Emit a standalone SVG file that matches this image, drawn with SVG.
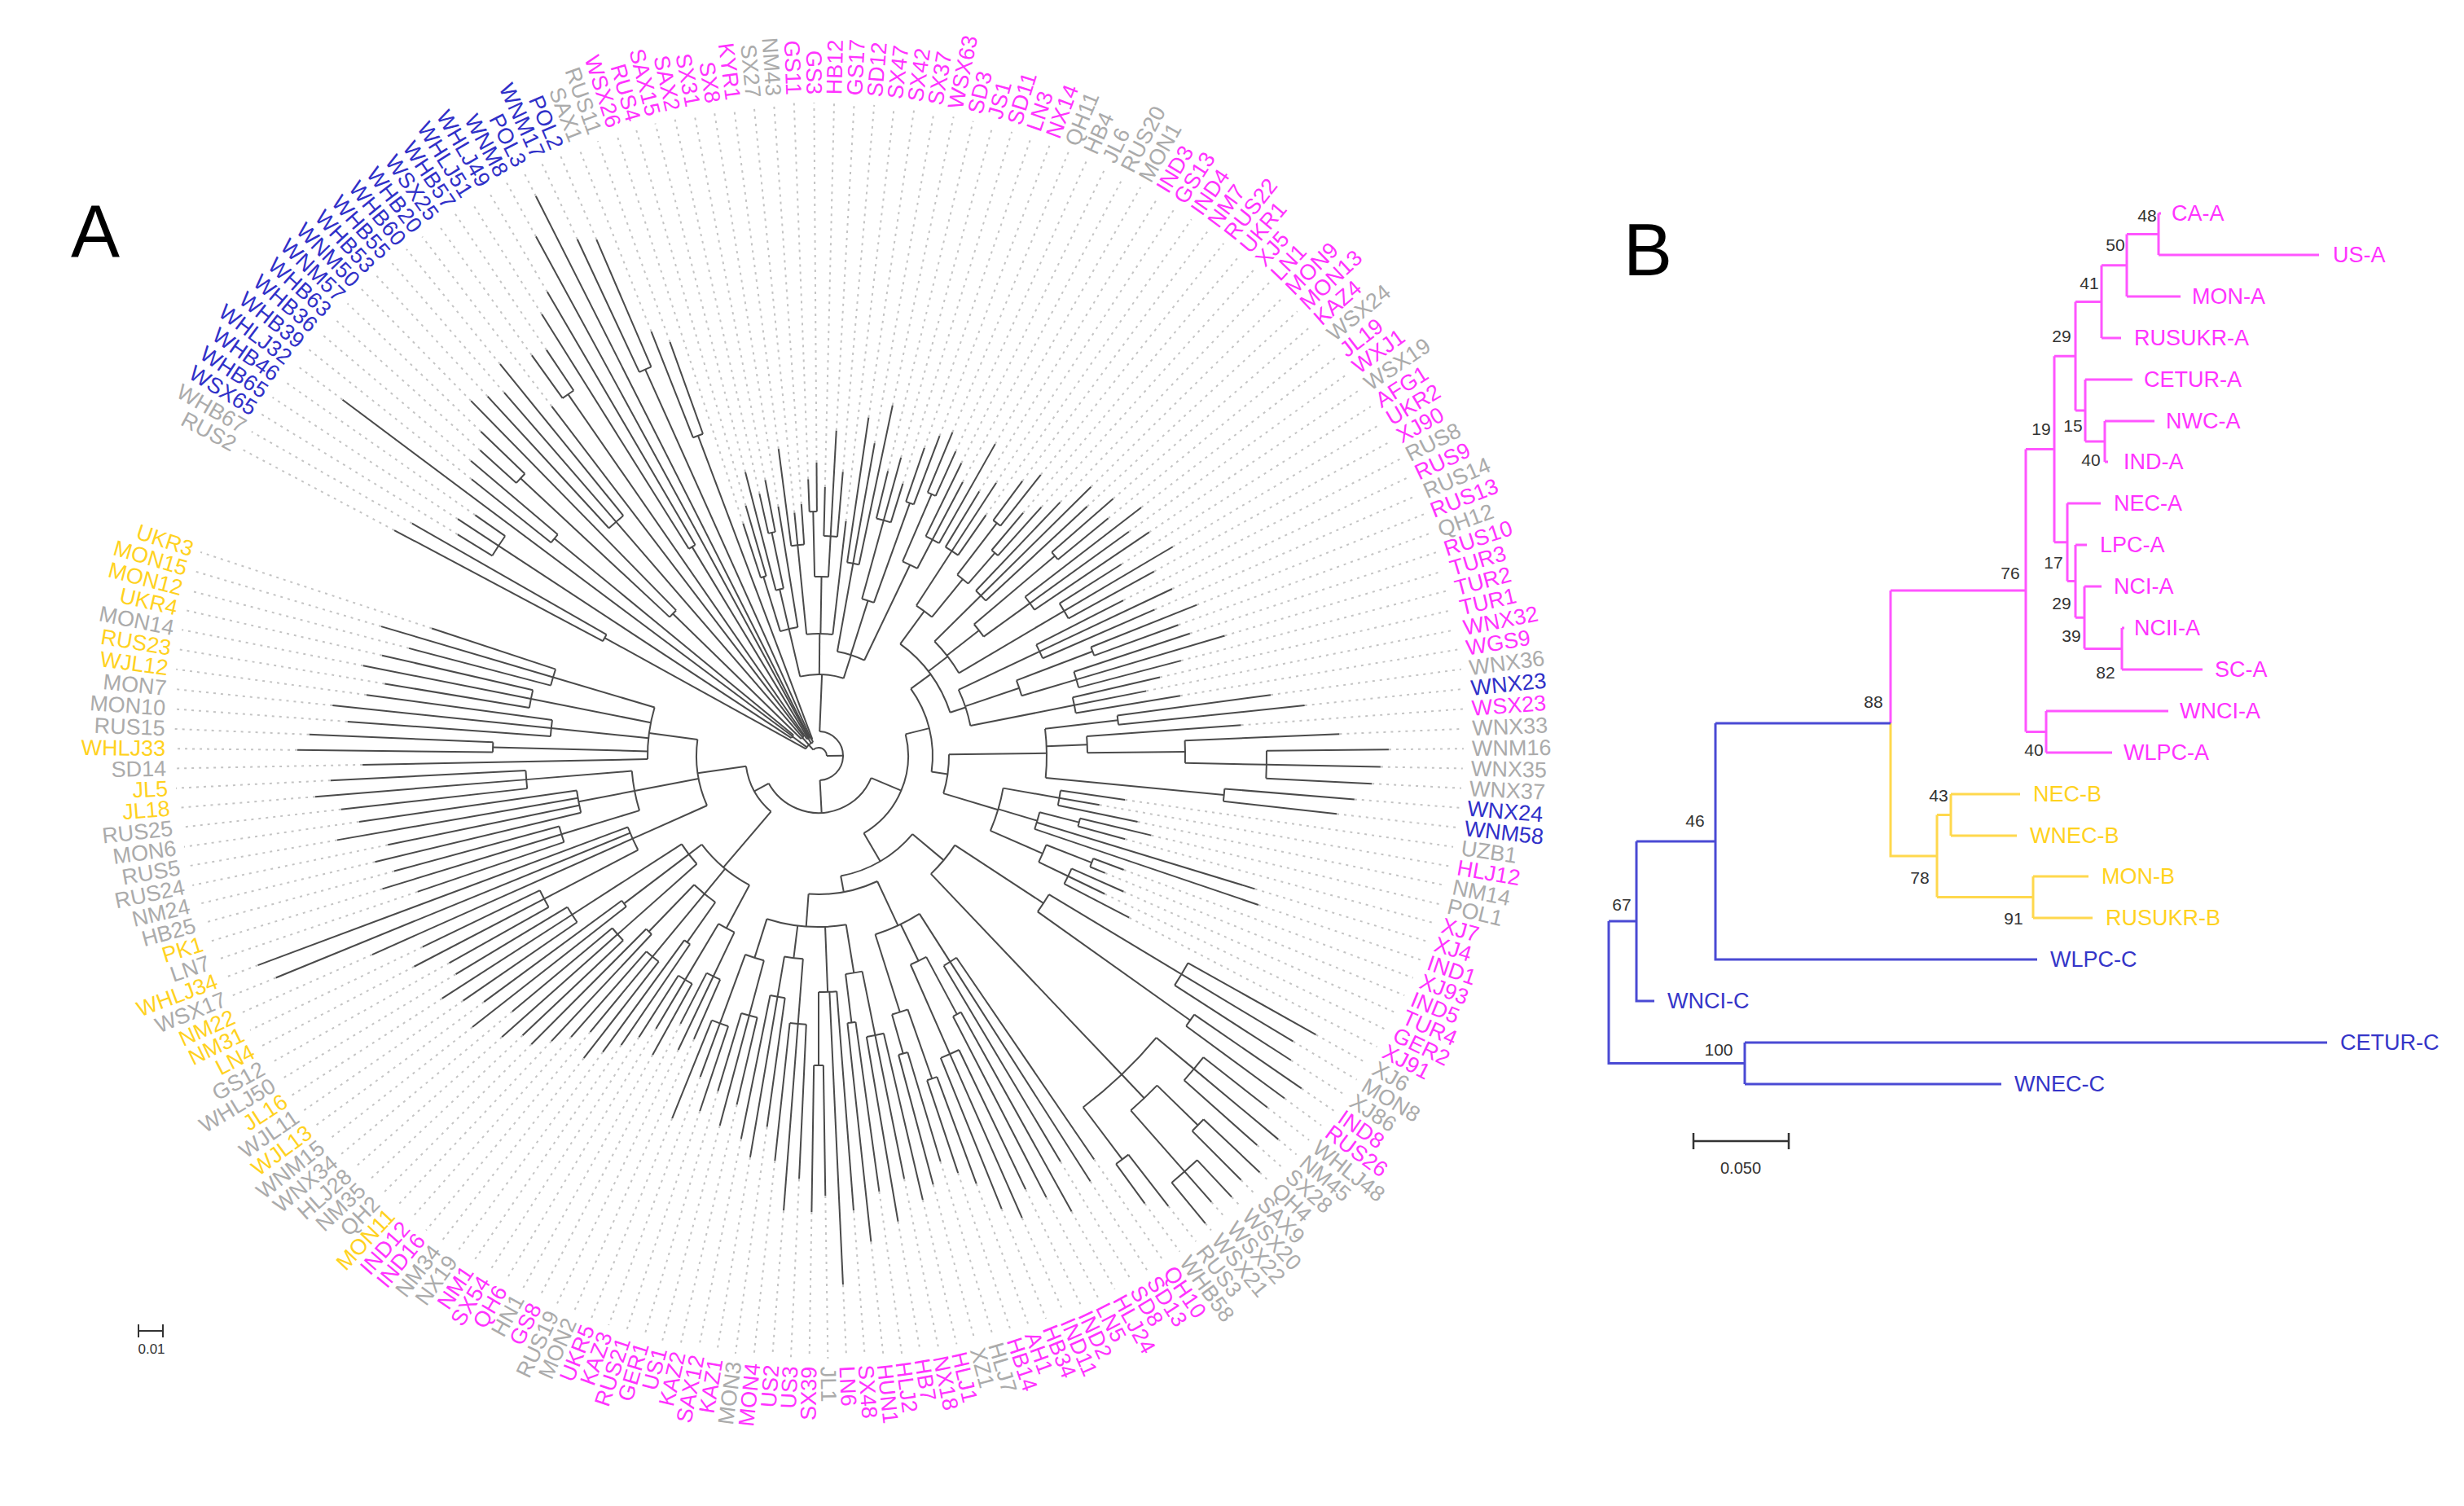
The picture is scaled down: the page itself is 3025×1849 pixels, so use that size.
<svg xmlns="http://www.w3.org/2000/svg" width="3025" height="1849" viewBox="0 0 3025 1849">
<style>
.br line,.br circle{stroke:#4a4a4a;stroke-width:2;fill:none}
.br line.d{stroke:#c4c4c4;stroke-width:2;stroke-dasharray:3 6}
#labelsA text{font-size:27px;font-family:"Liberation Sans",Arial,sans-serif;dominant-baseline:central}
.f{text-anchor:end}
.g{fill:#ababab}.m{fill:#ff33ff}.b{fill:#3030c8}.y{fill:#ffd21f}
.bl{font-size:27px;font-family:"Liberation Sans",Arial,sans-serif;dominant-baseline:central}
.bs{font-size:21px;font-family:"Liberation Sans",Arial,sans-serif;fill:#333;text-anchor:middle;dominant-baseline:central}
.pl{stroke:#ff55ff;stroke-width:3;fill:none}
.yl{stroke:#ffd84d;stroke-width:3;fill:none}
.bll{stroke:#4a4ad4;stroke-width:3;fill:none}
.pt{fill:#ff33ff}.yt{fill:#ffd21f}.bt{fill:#3535c8}
.panel{font-size:90px;font-family:"Liberation Sans",Arial,sans-serif;fill:#000}
</style>
<rect width="3025" height="1849" fill="#fff"/>
<text class="panel" x="87" y="315">A</text>
<text class="panel" x="1993" y="338">B</text>
<g id="panelA" transform="translate(1005 928) rotate(208)">
<g id="edgesA" class="br">
<g id="arcs">
<circle r="10" pathLength="360" stroke-dasharray="131.44 400" transform="rotate(20.24)"/>
<circle r="18" pathLength="360" stroke-dasharray="38.72 400" transform="rotate(0.88)"/>
<circle r="300" pathLength="360" stroke-dasharray="1.76 400" transform="rotate(0)"/>
<circle r="40" pathLength="360" stroke-dasharray="6.16 400" transform="rotate(5.28)"/>
<circle r="470" pathLength="360" stroke-dasharray="3.52 400" transform="rotate(3.52)"/>
<circle r="420" pathLength="360" stroke-dasharray="1.76 400" transform="rotate(10.56)"/>
<circle r="30" pathLength="360" stroke-dasharray="8.36 400" transform="rotate(16.28)"/>
<circle r="250" pathLength="360" stroke-dasharray="2.64 400" transform="rotate(14.96)"/>
<circle r="500" pathLength="360" stroke-dasharray="1.76 400" transform="rotate(14.08)"/>
<circle r="380" pathLength="360" stroke-dasharray="3.52 400" transform="rotate(19.36)"/>
<circle r="25" pathLength="360" stroke-dasharray="7.92 400" transform="rotate(27.28)"/>
<circle r="540" pathLength="360" stroke-dasharray="1.76 400" transform="rotate(26.4)"/>
<circle r="300" pathLength="360" stroke-dasharray="1.76 400" transform="rotate(29.92)"/>
<circle r="22" pathLength="360" stroke-dasharray="3.52 400" transform="rotate(37.84)"/>
<circle r="520" pathLength="360" stroke-dasharray="1.76 400" transform="rotate(36.96)"/>
<circle r="420" pathLength="360" stroke-dasharray="1.76 400" transform="rotate(40.48)"/>
<circle r="30" pathLength="360" stroke-dasharray="174.65 400" transform="rotate(64.35)"/>
<circle r="100" pathLength="360" stroke-dasharray="31.02 400" transform="rotate(48.84)"/>
<circle r="160" pathLength="360" stroke-dasharray="7.92 400" transform="rotate(44.88)"/>
<circle r="230" pathLength="360" stroke-dasharray="1.76 400" transform="rotate(44)"/>
<circle r="210" pathLength="360" stroke-dasharray="2.64 400" transform="rotate(47.52)"/>
<circle r="280" pathLength="360" stroke-dasharray="1.76 400" transform="rotate(49.28)"/>
<circle r="150" pathLength="360" stroke-dasharray="12.32 400" transform="rotate(56.32)"/>
<circle r="260" pathLength="360" stroke-dasharray="3.52 400" transform="rotate(54.56)"/>
<circle r="220" pathLength="360" stroke-dasharray="4.4 400" transform="rotate(60.72)"/>
<circle r="300" pathLength="360" stroke-dasharray="1.76 400" transform="rotate(59.84)"/>
<circle r="270" pathLength="360" stroke-dasharray="3.52 400" transform="rotate(63.36)"/>
<circle r="130" pathLength="360" stroke-dasharray="15.4 400" transform="rotate(72.16)"/>
<circle r="240" pathLength="360" stroke-dasharray="3.52 400" transform="rotate(70.4)"/>
<circle r="200" pathLength="360" stroke-dasharray="4.4 400" transform="rotate(77.44)"/>
<circle r="300" pathLength="360" stroke-dasharray="3.52 400" transform="rotate(75.68)"/>
<circle r="330" pathLength="360" stroke-dasharray="1.76 400" transform="rotate(80.96)"/>
<circle r="260" pathLength="360" stroke-dasharray="4.4 400" transform="rotate(85.36)"/>
<circle r="350" pathLength="360" stroke-dasharray="1.76 400" transform="rotate(84.48)"/>
<circle r="300" pathLength="360" stroke-dasharray="3.52 400" transform="rotate(88)"/>
<circle r="70" pathLength="360" stroke-dasharray="128.32 400" transform="rotate(174.84)"/>
<circle r="110" pathLength="360" stroke-dasharray="73.7 400" transform="rotate(138)"/>
<circle r="140" pathLength="360" stroke-dasharray="44.11 400" transform="rotate(115.94)"/>
<circle r="170" pathLength="360" stroke-dasharray="35.64 400" transform="rotate(98.12)"/>
<circle r="220" pathLength="360" stroke-dasharray="6.16 400" transform="rotate(95.04)"/>
<circle r="300" pathLength="360" stroke-dasharray="3.52 400" transform="rotate(93.28)"/>
<circle r="280" pathLength="360" stroke-dasharray="3.52 400" transform="rotate(99.44)"/>
<circle r="360" pathLength="360" stroke-dasharray="1.76 400" transform="rotate(98.56)"/>
<circle r="330" pathLength="360" stroke-dasharray="1.76 400" transform="rotate(102.08)"/>
<circle r="200" pathLength="360" stroke-dasharray="14.08 400" transform="rotate(107.36)"/>
<circle r="280" pathLength="360" stroke-dasharray="3.52 400" transform="rotate(105.6)"/>
<circle r="250" pathLength="360" stroke-dasharray="4.4 400" transform="rotate(111.76)"/>
<circle r="380" pathLength="360" stroke-dasharray="1.76 400" transform="rotate(110.88)"/>
<circle r="320" pathLength="360" stroke-dasharray="3.52 400" transform="rotate(114.4)"/>
<circle r="350" pathLength="360" stroke-dasharray="3.52 400" transform="rotate(119.68)"/>
<circle r="190" pathLength="360" stroke-dasharray="14.08 400" transform="rotate(126.72)"/>
<circle r="300" pathLength="360" stroke-dasharray="3.52 400" transform="rotate(124.96)"/>
<circle r="260" pathLength="360" stroke-dasharray="4.4 400" transform="rotate(131.12)"/>
<circle r="360" pathLength="360" stroke-dasharray="1.76 400" transform="rotate(130.24)"/>
<circle r="330" pathLength="360" stroke-dasharray="3.52 400" transform="rotate(133.76)"/>
<circle r="320" pathLength="360" stroke-dasharray="3.52 400" transform="rotate(139.04)"/>
<circle r="160" pathLength="360" stroke-dasharray="17.38 400" transform="rotate(151.36)"/>
<circle r="280" pathLength="360" stroke-dasharray="12.32 400" transform="rotate(145.2)"/>
<circle r="370" pathLength="360" stroke-dasharray="1.76 400" transform="rotate(144.32)"/>
<circle r="330" pathLength="360" stroke-dasharray="3.52 400" transform="rotate(147.84)"/>
<circle r="450" pathLength="360" stroke-dasharray="3.52 400" transform="rotate(149.6)"/>
<circle r="550" pathLength="360" stroke-dasharray="3.52 400" transform="rotate(151.36)"/>
<circle r="500" pathLength="360" stroke-dasharray="1.76 400" transform="rotate(156.64)"/>
<circle r="230" pathLength="360" stroke-dasharray="13.64 400" transform="rotate(161.92)"/>
<circle r="300" pathLength="360" stroke-dasharray="3.52 400" transform="rotate(160.16)"/>
<circle r="280" pathLength="360" stroke-dasharray="4.4 400" transform="rotate(166.32)"/>
<circle r="330" pathLength="360" stroke-dasharray="1.76 400" transform="rotate(165.44)"/>
<circle r="300" pathLength="360" stroke-dasharray="4.4 400" transform="rotate(173.36)"/>
<circle r="360" pathLength="360" stroke-dasharray="1.76 400" transform="rotate(172.48)"/>
<circle r="340" pathLength="360" stroke-dasharray="3.52 400" transform="rotate(176)"/>
<circle r="150" pathLength="360" stroke-dasharray="39.71 400" transform="rotate(191.84)"/>
<circle r="200" pathLength="360" stroke-dasharray="13.2 400" transform="rotate(185.24)"/>
<circle r="330" pathLength="360" stroke-dasharray="4.4 400" transform="rotate(183.04)"/>
<circle r="520" pathLength="360" stroke-dasharray="3.52 400" transform="rotate(181.28)"/>
<circle r="560" pathLength="360" stroke-dasharray="1.76 400" transform="rotate(186.56)"/>
<circle r="540" pathLength="360" stroke-dasharray="13.2 400" transform="rotate(191.84)"/>
<circle r="600" pathLength="360" stroke-dasharray="3.52 400" transform="rotate(190.08)"/>
<circle r="580" pathLength="360" stroke-dasharray="4.4 400" transform="rotate(196.24)"/>
<circle r="650" pathLength="360" stroke-dasharray="1.76 400" transform="rotate(195.36)"/>
<circle r="680" pathLength="360" stroke-dasharray="3.52 400" transform="rotate(198.88)"/>
<circle r="620" pathLength="360" stroke-dasharray="1.76 400" transform="rotate(204.16)"/>
<circle r="170" pathLength="360" stroke-dasharray="29.26 400" transform="rotate(216.92)"/>
<circle r="230" pathLength="360" stroke-dasharray="14.96 400" transform="rotate(209.44)"/>
<circle r="300" pathLength="360" stroke-dasharray="3.52 400" transform="rotate(207.68)"/>
<circle r="280" pathLength="360" stroke-dasharray="4.4 400" transform="rotate(213.84)"/>
<circle r="360" pathLength="360" stroke-dasharray="1.76 400" transform="rotate(212.96)"/>
<circle r="400" pathLength="360" stroke-dasharray="3.52 400" transform="rotate(216.48)"/>
<circle r="330" pathLength="360" stroke-dasharray="3.52 400" transform="rotate(222.64)"/>
<circle r="420" pathLength="360" stroke-dasharray="1.76 400" transform="rotate(221.76)"/>
<circle r="380" pathLength="360" stroke-dasharray="1.76 400" transform="rotate(225.28)"/>
<circle r="210" pathLength="360" stroke-dasharray="26.84 400" transform="rotate(232.76)"/>
<circle r="270" pathLength="360" stroke-dasharray="4.4 400" transform="rotate(230.56)"/>
<circle r="350" pathLength="360" stroke-dasharray="3.52 400" transform="rotate(228.8)"/>
<circle r="330" pathLength="360" stroke-dasharray="1.76 400" transform="rotate(234.08)"/>
<circle r="290" pathLength="360" stroke-dasharray="4.4 400" transform="rotate(237.6)"/>
<circle r="380" pathLength="360" stroke-dasharray="1.76 400" transform="rotate(241.12)"/>
<circle r="250" pathLength="360" stroke-dasharray="5.28 400" transform="rotate(246.4)"/>
<circle r="330" pathLength="360" stroke-dasharray="3.52 400" transform="rotate(244.64)"/>
<circle r="300" pathLength="360" stroke-dasharray="3.52 400" transform="rotate(249.92)"/>
<circle r="260" pathLength="360" stroke-dasharray="5.28 400" transform="rotate(256.96)"/>
<circle r="330" pathLength="360" stroke-dasharray="3.52 400" transform="rotate(255.2)"/>
<circle r="350" pathLength="360" stroke-dasharray="3.52 400" transform="rotate(260.48)"/>
<circle r="90" pathLength="360" stroke-dasharray="41.36 400" transform="rotate(282.48)"/>
<circle r="180" pathLength="360" stroke-dasharray="24.64 400" transform="rotate(270.16)"/>
<circle r="240" pathLength="360" stroke-dasharray="5.28 400" transform="rotate(267.52)"/>
<circle r="300" pathLength="360" stroke-dasharray="3.52 400" transform="rotate(265.76)"/>
<circle r="320" pathLength="360" stroke-dasharray="3.52 400" transform="rotate(271.04)"/>
<circle r="220" pathLength="360" stroke-dasharray="8.8 400" transform="rotate(277.2)"/>
<circle r="280" pathLength="360" stroke-dasharray="1.76 400" transform="rotate(276.32)"/>
<circle r="320" pathLength="360" stroke-dasharray="3.52 400" transform="rotate(279.84)"/>
<circle r="300" pathLength="360" stroke-dasharray="1.76 400" transform="rotate(285.12)"/>
<circle r="200" pathLength="360" stroke-dasharray="8.8 400" transform="rotate(290.4)"/>
<circle r="330" pathLength="360" stroke-dasharray="3.52 400" transform="rotate(288.64)"/>
<circle r="300" pathLength="360" stroke-dasharray="1.76 400" transform="rotate(293.92)"/>
<circle r="360" pathLength="360" stroke-dasharray="3.52 400" transform="rotate(297.44)"/>
<circle r="150" pathLength="360" stroke-dasharray="31.68 400" transform="rotate(308)"/>
<circle r="250" pathLength="360" stroke-dasharray="7.04 400" transform="rotate(304.48)"/>
<circle r="380" pathLength="360" stroke-dasharray="3.52 400" transform="rotate(302.72)"/>
<circle r="230" pathLength="360" stroke-dasharray="12.32 400" transform="rotate(315.04)"/>
<circle r="330" pathLength="360" stroke-dasharray="3.52 400" transform="rotate(313.28)"/>
<circle r="300" pathLength="360" stroke-dasharray="5.28 400" transform="rotate(318.56)"/>
<circle r="360" pathLength="360" stroke-dasharray="3.52 400" transform="rotate(325.6)"/>
<circle r="210" pathLength="360" stroke-dasharray="17.6 400" transform="rotate(330.88)"/>
<circle r="400" pathLength="360" stroke-dasharray="1.76 400" transform="rotate(332.64)"/>
<circle r="330" pathLength="360" stroke-dasharray="3.52 400" transform="rotate(336.16)"/>
<circle r="360" pathLength="360" stroke-dasharray="3.52 400" transform="rotate(341.44)"/>
<circle r="340" pathLength="360" stroke-dasharray="3.52 400" transform="rotate(346.72)"/>
</g>
<g id="stems">
<line x1="10" x2="18" transform="rotate(20.24)"/>
<line x1="18" x2="300" transform="rotate(0.88)"/>
<line x1="18" x2="40" transform="rotate(8.36)"/>
<line x1="40" x2="470" transform="rotate(5.28)"/>
<line x1="40" x2="420" transform="rotate(11.44)"/>
<line x1="18" x2="30" transform="rotate(20.46)"/>
<line x1="30" x2="250" transform="rotate(16.28)"/>
<line x1="250" x2="500" transform="rotate(14.96)"/>
<line x1="30" x2="380" transform="rotate(21.12)"/>
<line x1="18" x2="25" transform="rotate(31.24)"/>
<line x1="25" x2="540" transform="rotate(27.28)"/>
<line x1="25" x2="300" transform="rotate(30.8)"/>
<line x1="18" x2="22" transform="rotate(39.6)"/>
<line x1="22" x2="520" transform="rotate(37.84)"/>
<line x1="22" x2="420" transform="rotate(41.36)"/>
<line x1="10" x2="30" transform="rotate(151.68)"/>
<line x1="30" x2="100" transform="rotate(64.35)"/>
<line x1="100" x2="160" transform="rotate(48.84)"/>
<line x1="160" x2="230" transform="rotate(44.88)"/>
<line x1="160" x2="210" transform="rotate(48.84)"/>
<line x1="210" x2="280" transform="rotate(50.16)"/>
<line x1="100" x2="150" transform="rotate(62.48)"/>
<line x1="150" x2="260" transform="rotate(56.32)"/>
<line x1="150" x2="220" transform="rotate(62.92)"/>
<line x1="220" x2="300" transform="rotate(60.72)"/>
<line x1="220" x2="270" transform="rotate(65.12)"/>
<line x1="100" x2="130" transform="rotate(79.86)"/>
<line x1="130" x2="240" transform="rotate(72.16)"/>
<line x1="130" x2="200" transform="rotate(79.64)"/>
<line x1="200" x2="300" transform="rotate(77.44)"/>
<line x1="200" x2="330" transform="rotate(81.84)"/>
<line x1="130" x2="260" transform="rotate(87.56)"/>
<line x1="260" x2="350" transform="rotate(85.36)"/>
<line x1="260" x2="300" transform="rotate(89.76)"/>
<line x1="30" x2="70" transform="rotate(239)"/>
<line x1="70" x2="110" transform="rotate(174.84)"/>
<line x1="110" x2="140" transform="rotate(138)"/>
<line x1="140" x2="170" transform="rotate(115.94)"/>
<line x1="170" x2="220" transform="rotate(98.12)"/>
<line x1="220" x2="300" transform="rotate(95.04)"/>
<line x1="220" x2="280" transform="rotate(101.2)"/>
<line x1="280" x2="360" transform="rotate(99.44)"/>
<line x1="280" x2="330" transform="rotate(102.96)"/>
<line x1="170" x2="200" transform="rotate(114.4)"/>
<line x1="200" x2="280" transform="rotate(107.36)"/>
<line x1="200" x2="250" transform="rotate(113.96)"/>
<line x1="250" x2="380" transform="rotate(111.76)"/>
<line x1="250" x2="320" transform="rotate(116.16)"/>
<line x1="200" x2="350" transform="rotate(121.44)"/>
<line x1="170" x2="190" transform="rotate(133.76)"/>
<line x1="190" x2="300" transform="rotate(126.72)"/>
<line x1="190" x2="260" transform="rotate(133.32)"/>
<line x1="260" x2="360" transform="rotate(131.12)"/>
<line x1="260" x2="330" transform="rotate(135.52)"/>
<line x1="190" x2="320" transform="rotate(140.8)"/>
<line x1="140" x2="160" transform="rotate(160.05)"/>
<line x1="160" x2="280" transform="rotate(151.36)"/>
<line x1="280" x2="370" transform="rotate(145.2)"/>
<line x1="280" x2="330" transform="rotate(149.6)"/>
<line x1="330" x2="450" transform="rotate(151.36)"/>
<line x1="450" x2="550" transform="rotate(153.12)"/>
<line x1="280" x2="500" transform="rotate(157.52)"/>
<line x1="160" x2="230" transform="rotate(168.74)"/>
<line x1="230" x2="300" transform="rotate(161.92)"/>
<line x1="230" x2="280" transform="rotate(168.52)"/>
<line x1="280" x2="330" transform="rotate(166.32)"/>
<line x1="230" x2="300" transform="rotate(175.56)"/>
<line x1="300" x2="360" transform="rotate(173.36)"/>
<line x1="300" x2="340" transform="rotate(177.76)"/>
<line x1="110" x2="150" transform="rotate(211.7)"/>
<line x1="150" x2="200" transform="rotate(191.84)"/>
<line x1="200" x2="330" transform="rotate(185.24)"/>
<line x1="330" x2="520" transform="rotate(183.04)"/>
<line x1="330" x2="560" transform="rotate(187.44)"/>
<line x1="200" x2="540" transform="rotate(198.44)"/>
<line x1="540" x2="600" transform="rotate(191.84)"/>
<line x1="540" x2="580" transform="rotate(198.44)"/>
<line x1="580" x2="650" transform="rotate(196.24)"/>
<line x1="580" x2="680" transform="rotate(200.64)"/>
<line x1="540" x2="620" transform="rotate(205.04)"/>
<line x1="150" x2="170" transform="rotate(231.55)"/>
<line x1="170" x2="230" transform="rotate(216.92)"/>
<line x1="230" x2="300" transform="rotate(209.44)"/>
<line x1="230" x2="280" transform="rotate(216.04)"/>
<line x1="280" x2="360" transform="rotate(213.84)"/>
<line x1="280" x2="400" transform="rotate(218.24)"/>
<line x1="230" x2="330" transform="rotate(224.4)"/>
<line x1="330" x2="420" transform="rotate(222.64)"/>
<line x1="330" x2="380" transform="rotate(226.16)"/>
<line x1="170" x2="210" transform="rotate(246.18)"/>
<line x1="210" x2="270" transform="rotate(232.76)"/>
<line x1="270" x2="350" transform="rotate(230.56)"/>
<line x1="270" x2="330" transform="rotate(234.96)"/>
<line x1="210" x2="290" transform="rotate(239.8)"/>
<line x1="290" x2="380" transform="rotate(242)"/>
<line x1="210" x2="250" transform="rotate(249.04)"/>
<line x1="250" x2="330" transform="rotate(246.4)"/>
<line x1="250" x2="300" transform="rotate(251.68)"/>
<line x1="210" x2="260" transform="rotate(259.6)"/>
<line x1="260" x2="330" transform="rotate(256.96)"/>
<line x1="260" x2="350" transform="rotate(262.24)"/>
<line x1="70" x2="90" transform="rotate(303.16)"/>
<line x1="90" x2="180" transform="rotate(282.48)"/>
<line x1="180" x2="240" transform="rotate(270.16)"/>
<line x1="240" x2="300" transform="rotate(267.52)"/>
<line x1="240" x2="320" transform="rotate(272.8)"/>
<line x1="180" x2="220" transform="rotate(281.6)"/>
<line x1="220" x2="280" transform="rotate(277.2)"/>
<line x1="220" x2="320" transform="rotate(281.6)"/>
<line x1="220" x2="300" transform="rotate(286)"/>
<line x1="180" x2="200" transform="rotate(294.8)"/>
<line x1="200" x2="330" transform="rotate(290.4)"/>
<line x1="200" x2="300" transform="rotate(294.8)"/>
<line x1="200" x2="360" transform="rotate(299.2)"/>
<line x1="90" x2="150" transform="rotate(323.84)"/>
<line x1="150" x2="250" transform="rotate(308)"/>
<line x1="250" x2="380" transform="rotate(304.48)"/>
<line x1="150" x2="230" transform="rotate(321.2)"/>
<line x1="230" x2="330" transform="rotate(315.04)"/>
<line x1="230" x2="300" transform="rotate(321.2)"/>
<line x1="230" x2="360" transform="rotate(327.36)"/>
<line x1="150" x2="210" transform="rotate(339.68)"/>
<line x1="210" x2="400" transform="rotate(333.52)"/>
<line x1="210" x2="330" transform="rotate(337.92)"/>
<line x1="210" x2="360" transform="rotate(343.2)"/>
<line x1="210" x2="340" transform="rotate(348.48)"/>
</g>
<g id="tips">
<g transform="rotate(0)"><line x1="300" x2="590"/><line class="d" x1="590" x2="802"/></g>
<g transform="rotate(1.76)"><line x1="300" x2="575"/><line class="d" x1="575" x2="802"/></g>
<g transform="rotate(3.52)"><line x1="470" x2="520"/><line class="d" x1="520" x2="802"/></g>
<g transform="rotate(5.28)"><line x1="470" x2="530"/><line class="d" x1="530" x2="802"/></g>
<g transform="rotate(7.04)"><line x1="470" x2="515"/><line class="d" x1="515" x2="802"/></g>
<g transform="rotate(8.8)"><line x1="40" x2="730"/><line class="d" x1="730" x2="802"/></g>
<g transform="rotate(10.56)"><line x1="420" x2="545"/><line class="d" x1="545" x2="802"/></g>
<g transform="rotate(12.32)"><line x1="420" x2="560"/><line class="d" x1="560" x2="802"/></g>
<g transform="rotate(14.08)"><line x1="500" x2="560"/><line class="d" x1="560" x2="802"/></g>
<g transform="rotate(15.84)"><line x1="500" x2="575"/><line class="d" x1="575" x2="802"/></g>
<g transform="rotate(17.6)"><line x1="250" x2="610"/><line class="d" x1="610" x2="802"/></g>
<g transform="rotate(19.36)"><line x1="380" x2="600"/><line class="d" x1="600" x2="802"/></g>
<g transform="rotate(21.12)"><line x1="380" x2="590"/><line class="d" x1="590" x2="802"/></g>
<g transform="rotate(22.88)"><line x1="380" x2="620"/><line class="d" x1="620" x2="802"/></g>
<g transform="rotate(24.64)"><line x1="30" x2="540"/><line class="d" x1="540" x2="802"/></g>
<g transform="rotate(26.4)"><line x1="540" x2="605"/><line class="d" x1="605" x2="802"/></g>
<g transform="rotate(28.16)"><line x1="540" x2="600"/><line class="d" x1="600" x2="802"/></g>
<g transform="rotate(29.92)"><line x1="300" x2="640"/><line class="d" x1="640" x2="802"/></g>
<g transform="rotate(31.68)"><line x1="300" x2="660"/><line class="d" x1="660" x2="802"/></g>
<g transform="rotate(33.44)"><line x1="25" x2="726"/><line class="d" x1="726" x2="802"/></g>
<g transform="rotate(35.2)"><line x1="25" x2="770"/><line class="d" x1="770" x2="802"/></g>
<g transform="rotate(36.96)"><line x1="520" x2="700"/><line class="d" x1="700" x2="802"/></g>
<g transform="rotate(38.72)"><line x1="520" x2="690"/><line class="d" x1="690" x2="802"/></g>
<g transform="rotate(40.48)"><line x1="420" x2="560"/><line class="d" x1="560" x2="802"/></g>
<g transform="rotate(42.24)"><line x1="420" x2="540"/><line class="d" x1="540" x2="802"/></g>
<g transform="rotate(44)"><line x1="230" x2="300"/><line class="d" x1="300" x2="802"/></g>
<g transform="rotate(45.76)"><line x1="230" x2="320"/><line class="d" x1="320" x2="802"/></g>
<g transform="rotate(47.52)"><line x1="210" x2="360"/><line class="d" x1="360" x2="802"/></g>
<g transform="rotate(49.28)"><line x1="280" x2="330"/><line class="d" x1="330" x2="802"/></g>
<g transform="rotate(51.04)"><line x1="280" x2="345"/><line class="d" x1="345" x2="802"/></g>
<g transform="rotate(52.8)"><line x1="160" x2="310"/><line class="d" x1="310" x2="802"/></g>
<g transform="rotate(54.56)"><line x1="260" x2="380"/><line class="d" x1="380" x2="802"/></g>
<g transform="rotate(56.32)"><line x1="260" x2="300"/><line class="d" x1="300" x2="802"/></g>
<g transform="rotate(58.08)"><line x1="260" x2="310"/><line class="d" x1="310" x2="802"/></g>
<g transform="rotate(59.84)"><line x1="300" x2="340"/><line class="d" x1="340" x2="802"/></g>
<g transform="rotate(61.6)"><line x1="300" x2="360"/><line class="d" x1="360" x2="802"/></g>
<g transform="rotate(63.36)"><line x1="270" x2="330"/><line class="d" x1="330" x2="802"/></g>
<g transform="rotate(65.12)"><line x1="270" x2="400"/><line class="d" x1="400" x2="802"/></g>
<g transform="rotate(66.88)"><line x1="270" x2="350"/><line class="d" x1="350" x2="802"/></g>
<g transform="rotate(68.64)"><line x1="150" x2="290"/><line class="d" x1="290" x2="802"/></g>
<g transform="rotate(70.4)"><line x1="240" x2="420"/><line class="d" x1="420" x2="802"/></g>
<g transform="rotate(72.16)"><line x1="240" x2="390"/><line class="d" x1="390" x2="802"/></g>
<g transform="rotate(73.92)"><line x1="240" x2="440"/><line class="d" x1="440" x2="802"/></g>
<g transform="rotate(75.68)"><line x1="300" x2="360"/><line class="d" x1="360" x2="802"/></g>
<g transform="rotate(77.44)"><line x1="300" x2="380"/><line class="d" x1="380" x2="802"/></g>
<g transform="rotate(79.2)"><line x1="300" x2="350"/><line class="d" x1="350" x2="802"/></g>
<g transform="rotate(80.96)"><line x1="330" x2="400"/><line class="d" x1="400" x2="802"/></g>
<g transform="rotate(82.72)"><line x1="330" x2="420"/><line class="d" x1="420" x2="802"/></g>
<g transform="rotate(84.48)"><line x1="350" x2="430"/><line class="d" x1="430" x2="802"/></g>
<g transform="rotate(86.24)"><line x1="350" x2="410"/><line class="d" x1="410" x2="802"/></g>
<g transform="rotate(88)"><line x1="300" x2="400"/><line class="d" x1="400" x2="802"/></g>
<g transform="rotate(89.76)"><line x1="300" x2="380"/><line class="d" x1="380" x2="802"/></g>
<g transform="rotate(91.52)"><line x1="300" x2="440"/><line class="d" x1="440" x2="802"/></g>
<g transform="rotate(93.28)"><line x1="300" x2="380"/><line class="d" x1="380" x2="802"/></g>
<g transform="rotate(95.04)"><line x1="300" x2="400"/><line class="d" x1="400" x2="802"/></g>
<g transform="rotate(96.8)"><line x1="300" x2="360"/><line class="d" x1="360" x2="802"/></g>
<g transform="rotate(98.56)"><line x1="360" x2="420"/><line class="d" x1="420" x2="802"/></g>
<g transform="rotate(100.32)"><line x1="360" x2="440"/><line class="d" x1="440" x2="802"/></g>
<g transform="rotate(102.08)"><line x1="330" x2="390"/><line class="d" x1="390" x2="802"/></g>
<g transform="rotate(103.84)"><line x1="330" x2="410"/><line class="d" x1="410" x2="802"/></g>
<g transform="rotate(105.6)"><line x1="280" x2="430"/><line class="d" x1="430" x2="802"/></g>
<g transform="rotate(107.36)"><line x1="280" x2="470"/><line class="d" x1="470" x2="802"/></g>
<g transform="rotate(109.12)"><line x1="280" x2="450"/><line class="d" x1="450" x2="802"/></g>
<g transform="rotate(110.88)"><line x1="380" x2="480"/><line class="d" x1="480" x2="802"/></g>
<g transform="rotate(112.64)"><line x1="380" x2="460"/><line class="d" x1="460" x2="802"/></g>
<g transform="rotate(114.4)"><line x1="320" x2="500"/><line class="d" x1="500" x2="802"/></g>
<g transform="rotate(116.16)"><line x1="320" x2="470"/><line class="d" x1="470" x2="802"/></g>
<g transform="rotate(117.92)"><line x1="320" x2="490"/><line class="d" x1="490" x2="802"/></g>
<g transform="rotate(119.68)"><line x1="350" x2="440"/><line class="d" x1="440" x2="802"/></g>
<g transform="rotate(121.44)"><line x1="350" x2="505"/><line class="d" x1="505" x2="802"/></g>
<g transform="rotate(123.2)"><line x1="350" x2="470"/><line class="d" x1="470" x2="802"/></g>
<g transform="rotate(124.96)"><line x1="300" x2="420"/><line class="d" x1="420" x2="801"/></g>
<g transform="rotate(126.72)"><line x1="300" x2="480"/><line class="d" x1="480" x2="801"/></g>
<g transform="rotate(128.48)"><line x1="300" x2="450"/><line class="d" x1="450" x2="801"/></g>
<g transform="rotate(130.24)"><line x1="360" x2="500"/><line class="d" x1="500" x2="800"/></g>
<g transform="rotate(132)"><line x1="360" x2="470"/><line class="d" x1="470" x2="800"/></g>
<g transform="rotate(133.76)"><line x1="330" x2="480"/><line class="d" x1="480" x2="799"/></g>
<g transform="rotate(135.52)"><line x1="330" x2="520"/><line class="d" x1="520" x2="799"/></g>
<g transform="rotate(137.28)"><line x1="330" x2="460"/><line class="d" x1="460" x2="798"/></g>
<g transform="rotate(139.04)"><line x1="320" x2="430"/><line class="d" x1="430" x2="798"/></g>
<g transform="rotate(140.8)"><line x1="320" x2="410"/><line class="d" x1="410" x2="797"/></g>
<g transform="rotate(142.56)"><line x1="320" x2="450"/><line class="d" x1="450" x2="796"/></g>
<g transform="rotate(144.32)"><line x1="370" x2="560"/><line class="d" x1="560" x2="796"/></g>
<g transform="rotate(146.08)"><line x1="370" x2="600"/><line class="d" x1="600" x2="795"/></g>
<g transform="rotate(147.84)"><line x1="330" x2="520"/><line class="d" x1="520" x2="794"/></g>
<g transform="rotate(149.6)"><line x1="450" x2="640"/><line class="d" x1="640" x2="793"/></g>
<g transform="rotate(151.36)"><line x1="550" x2="700"/><line class="d" x1="700" x2="792"/></g>
<g transform="rotate(153.12)"><line x1="550" x2="690"/><line class="d" x1="690" x2="791"/></g>
<g transform="rotate(154.88)"><line x1="550" x2="680"/><line class="d" x1="680" x2="790"/></g>
<g transform="rotate(156.64)"><line x1="500" x2="660"/><line class="d" x1="660" x2="789"/></g>
<g transform="rotate(158.4)"><line x1="500" x2="640"/><line class="d" x1="640" x2="788"/></g>
<g transform="rotate(160.16)"><line x1="300" x2="380"/><line class="d" x1="380" x2="787"/></g>
<g transform="rotate(161.92)"><line x1="300" x2="350"/><line class="d" x1="350" x2="786"/></g>
<g transform="rotate(163.68)"><line x1="300" x2="400"/><line class="d" x1="400" x2="785"/></g>
<g transform="rotate(165.44)"><line x1="330" x2="420"/><line class="d" x1="420" x2="784"/></g>
<g transform="rotate(167.2)"><line x1="330" x2="390"/><line class="d" x1="390" x2="783"/></g>
<g transform="rotate(168.96)"><line x1="280" x2="560"/><line class="d" x1="560" x2="781"/></g>
<g transform="rotate(170.72)"><line x1="280" x2="570"/><line class="d" x1="570" x2="780"/></g>
<g transform="rotate(172.48)"><line x1="360" x2="400"/><line class="d" x1="400" x2="779"/></g>
<g transform="rotate(174.24)"><line x1="360" x2="380"/><line class="d" x1="380" x2="777"/></g>
<g transform="rotate(176)"><line x1="340" x2="410"/><line class="d" x1="410" x2="776"/></g>
<g transform="rotate(177.76)"><line x1="340" x2="390"/><line class="d" x1="390" x2="775"/></g>
<g transform="rotate(179.52)"><line x1="340" x2="430"/><line class="d" x1="430" x2="773"/></g>
<g transform="rotate(181.28)"><line x1="520" x2="700"/><line class="d" x1="700" x2="772"/></g>
<g transform="rotate(183.04)"><line x1="520" x2="680"/><line class="d" x1="680" x2="771"/></g>
<g transform="rotate(184.8)"><line x1="520" x2="690"/><line class="d" x1="690" x2="769"/></g>
<g transform="rotate(186.56)"><line x1="560" x2="720"/><line class="d" x1="720" x2="768"/></g>
<g transform="rotate(188.32)"><line x1="560" x2="710"/><line class="d" x1="710" x2="766"/></g>
<g transform="rotate(190.08)"><line x1="600" x2="700"/><line class="d" x1="700" x2="765"/></g>
<g transform="rotate(191.84)"><line x1="600" x2="735"/><line class="d" x1="735" x2="764"/></g>
<g transform="rotate(193.6)"><line x1="600" x2="720"/><line class="d" x1="720" x2="762"/></g>
<g transform="rotate(195.36)"><line x1="650" x2="745"/><line class="d" x1="745" x2="761"/></g>
<g transform="rotate(197.12)"><line x1="650" x2="735"/><line class="d" x1="735" x2="760"/></g>
<g transform="rotate(198.88)"><line x1="680" x2="742"/><line class="d" x1="742" x2="758"/></g>
<g transform="rotate(200.64)"><line x1="680" x2="730"/><line class="d" x1="730" x2="757"/></g>
<g transform="rotate(202.4)"><line x1="680" x2="745"/><line class="d" x1="745" x2="756"/></g>
<g transform="rotate(204.16)"><line x1="620" x2="700"/><line class="d" x1="700" x2="755"/></g>
<g transform="rotate(205.92)"><line x1="620" x2="680"/><line class="d" x1="680" x2="753"/></g>
<g transform="rotate(207.68)"><line x1="300" x2="600"/><line class="d" x1="600" x2="752"/></g>
<g transform="rotate(209.44)"><line x1="300" x2="620"/><line class="d" x1="620" x2="751"/></g>
<g transform="rotate(211.2)"><line x1="300" x2="580"/><line class="d" x1="580" x2="750"/></g>
<g transform="rotate(212.96)"><line x1="360" x2="640"/><line class="d" x1="640" x2="749"/></g>
<g transform="rotate(214.72)"><line x1="360" x2="610"/><line class="d" x1="610" x2="748"/></g>
<g transform="rotate(216.48)"><line x1="400" x2="590"/><line class="d" x1="590" x2="747"/></g>
<g transform="rotate(218.24)"><line x1="400" x2="620"/><line class="d" x1="620" x2="746"/></g>
<g transform="rotate(220)"><line x1="400" x2="600"/><line class="d" x1="600" x2="745"/></g>
<g transform="rotate(221.76)"><line x1="420" x2="560"/><line class="d" x1="560" x2="745"/></g>
<g transform="rotate(223.52)"><line x1="420" x2="540"/><line class="d" x1="540" x2="744"/></g>
<g transform="rotate(225.28)"><line x1="380" x2="520"/><line class="d" x1="520" x2="743"/></g>
<g transform="rotate(227.04)"><line x1="380" x2="545"/><line class="d" x1="545" x2="743"/></g>
<g transform="rotate(228.8)"><line x1="350" x2="560"/><line class="d" x1="560" x2="742"/></g>
<g transform="rotate(230.56)"><line x1="350" x2="530"/><line class="d" x1="530" x2="742"/></g>
<g transform="rotate(232.32)"><line x1="350" x2="580"/><line class="d" x1="580" x2="741"/></g>
<g transform="rotate(234.08)"><line x1="330" x2="540"/><line class="d" x1="540" x2="741"/></g>
<g transform="rotate(235.84)"><line x1="330" x2="600"/><line class="d" x1="600" x2="741"/></g>
<g transform="rotate(237.6)"><line x1="290" x2="560"/><line class="d" x1="560" x2="740"/></g>
<g transform="rotate(239.36)"><line x1="290" x2="650"/><line class="d" x1="650" x2="740"/></g>
<g transform="rotate(241.12)"><line x1="380" x2="540"/><line class="d" x1="540" x2="740"/></g>
<g transform="rotate(242.88)"><line x1="380" x2="560"/><line class="d" x1="560" x2="740"/></g>
<g transform="rotate(244.64)"><line x1="330" x2="520"/><line class="d" x1="520" x2="740"/></g>
<g transform="rotate(246.4)"><line x1="330" x2="560"/><line class="d" x1="560" x2="740"/></g>
<g transform="rotate(248.16)"><line x1="330" x2="500"/><line class="d" x1="500" x2="740"/></g>
<g transform="rotate(249.92)"><line x1="300" x2="460"/><line class="d" x1="460" x2="741"/></g>
<g transform="rotate(251.68)"><line x1="300" x2="500"/><line class="d" x1="500" x2="741"/></g>
<g transform="rotate(253.44)"><line x1="300" x2="480"/><line class="d" x1="480" x2="741"/></g>
<g transform="rotate(255.2)"><line x1="330" x2="440"/><line class="d" x1="440" x2="742"/></g>
<g transform="rotate(256.96)"><line x1="330" x2="470"/><line class="d" x1="470" x2="743"/></g>
<g transform="rotate(258.72)"><line x1="330" x2="430"/><line class="d" x1="430" x2="743"/></g>
<g transform="rotate(260.48)"><line x1="350" x2="460"/><line class="d" x1="460" x2="744"/></g>
<g transform="rotate(262.24)"><line x1="350" x2="420"/><line class="d" x1="420" x2="745"/></g>
<g transform="rotate(264)"><line x1="350" x2="480"/><line class="d" x1="480" x2="745"/></g>
<g transform="rotate(265.76)"><line x1="300" x2="380"/><line class="d" x1="380" x2="746"/></g>
<g transform="rotate(267.52)"><line x1="300" x2="400"/><line class="d" x1="400" x2="747"/></g>
<g transform="rotate(269.28)"><line x1="300" x2="370"/><line class="d" x1="370" x2="748"/></g>
<g transform="rotate(271.04)"><line x1="320" x2="420"/><line class="d" x1="420" x2="749"/></g>
<g transform="rotate(272.8)"><line x1="320" x2="390"/><line class="d" x1="390" x2="750"/></g>
<g transform="rotate(274.56)"><line x1="320" x2="410"/><line class="d" x1="410" x2="751"/></g>
<g transform="rotate(276.32)"><line x1="280" x2="430"/><line class="d" x1="430" x2="752"/></g>
<g transform="rotate(278.08)"><line x1="280" x2="450"/><line class="d" x1="450" x2="753"/></g>
<g transform="rotate(279.84)"><line x1="320" x2="470"/><line class="d" x1="470" x2="755"/></g>
<g transform="rotate(281.6)"><line x1="320" x2="440"/><line class="d" x1="440" x2="756"/></g>
<g transform="rotate(283.36)"><line x1="320" x2="460"/><line class="d" x1="460" x2="757"/></g>
<g transform="rotate(285.12)"><line x1="300" x2="480"/><line class="d" x1="480" x2="758"/></g>
<g transform="rotate(286.88)"><line x1="300" x2="500"/><line class="d" x1="500" x2="760"/></g>
<g transform="rotate(288.64)"><line x1="330" x2="500"/><line class="d" x1="500" x2="761"/></g>
<g transform="rotate(290.4)"><line x1="330" x2="520"/><line class="d" x1="520" x2="762"/></g>
<g transform="rotate(292.16)"><line x1="330" x2="490"/><line class="d" x1="490" x2="764"/></g>
<g transform="rotate(293.92)"><line x1="300" x2="540"/><line class="d" x1="540" x2="765"/></g>
<g transform="rotate(295.68)"><line x1="300" x2="510"/><line class="d" x1="510" x2="766"/></g>
<g transform="rotate(297.44)"><line x1="360" x2="530"/><line class="d" x1="530" x2="768"/></g>
<g transform="rotate(299.2)"><line x1="360" x2="550"/><line class="d" x1="550" x2="769"/></g>
<g transform="rotate(300.96)"><line x1="360" x2="520"/><line class="d" x1="520" x2="771"/></g>
<g transform="rotate(302.72)"><line x1="380" x2="520"/><line class="d" x1="520" x2="772"/></g>
<g transform="rotate(304.48)"><line x1="380" x2="560"/><line class="d" x1="560" x2="773"/></g>
<g transform="rotate(306.24)"><line x1="380" x2="540"/><line class="d" x1="540" x2="775"/></g>
<g transform="rotate(308)"><line x1="250" x2="600"/><line class="d" x1="600" x2="776"/></g>
<g transform="rotate(309.76)"><line x1="250" x2="720"/><line class="d" x1="720" x2="777"/></g>
<g transform="rotate(311.52)"><line x1="250" x2="735"/><line class="d" x1="735" x2="779"/></g>
<g transform="rotate(313.28)"><line x1="330" x2="520"/><line class="d" x1="520" x2="780"/></g>
<g transform="rotate(315.04)"><line x1="330" x2="560"/><line class="d" x1="560" x2="781"/></g>
<g transform="rotate(316.8)"><line x1="330" x2="540"/><line class="d" x1="540" x2="783"/></g>
<g transform="rotate(318.56)"><line x1="300" x2="560"/><line class="d" x1="560" x2="784"/></g>
<g transform="rotate(320.32)"><line x1="300" x2="540"/><line class="d" x1="540" x2="785"/></g>
<g transform="rotate(322.08)"><line x1="300" x2="600"/><line class="d" x1="600" x2="786"/></g>
<g transform="rotate(323.84)"><line x1="300" x2="570"/><line class="d" x1="570" x2="787"/></g>
<g transform="rotate(325.6)"><line x1="360" x2="590"/><line class="d" x1="590" x2="788"/></g>
<g transform="rotate(327.36)"><line x1="360" x2="620"/><line class="d" x1="620" x2="789"/></g>
<g transform="rotate(329.12)"><line x1="360" x2="600"/><line class="d" x1="600" x2="790"/></g>
<g transform="rotate(330.88)"><line x1="210" x2="560"/><line class="d" x1="560" x2="791"/></g>
<g transform="rotate(332.64)"><line x1="400" x2="640"/><line class="d" x1="640" x2="792"/></g>
<g transform="rotate(334.4)"><line x1="400" x2="626"/><line class="d" x1="626" x2="793"/></g>
<g transform="rotate(336.16)"><line x1="330" x2="580"/><line class="d" x1="580" x2="794"/></g>
<g transform="rotate(337.92)"><line x1="330" x2="600"/><line class="d" x1="600" x2="795"/></g>
<g transform="rotate(339.68)"><line x1="330" x2="560"/><line class="d" x1="560" x2="796"/></g>
<g transform="rotate(341.44)"><line x1="360" x2="540"/><line class="d" x1="540" x2="796"/></g>
<g transform="rotate(343.2)"><line x1="360" x2="570"/><line class="d" x1="570" x2="797"/></g>
<g transform="rotate(344.96)"><line x1="360" x2="550"/><line class="d" x1="550" x2="798"/></g>
<g transform="rotate(346.72)"><line x1="340" x2="520"/><line class="d" x1="520" x2="798"/></g>
<g transform="rotate(348.48)"><line x1="340" x2="560"/><line class="d" x1="560" x2="799"/></g>
<g transform="rotate(350.24)"><line x1="340" x2="500"/><line class="d" x1="500" x2="799"/></g>
</g>
</g>
<g id="labelsA">
<g id="n-RUS2" transform="rotate(180)"><text class="g f" x="-812">RUS2</text></g>
<g id="n-WHB67" transform="rotate(181.76)"><text class="g f" x="-812">WHB67</text></g>
<g id="n-WSX65" transform="rotate(183.52)"><text class="b f" x="-812">WSX65</text></g>
<g id="n-WHB65" transform="rotate(185.28)"><text class="b f" x="-812">WHB65</text></g>
<g id="n-WHB46" transform="rotate(187.04)"><text class="b f" x="-812">WHB46</text></g>
<g id="n-WHLJ32" transform="rotate(188.8)"><text class="b f" x="-812">WHLJ32</text></g>
<g id="n-WHB39" transform="rotate(190.56)"><text class="b f" x="-812">WHB39</text></g>
<g id="n-WHB36" transform="rotate(192.32)"><text class="b f" x="-812">WHB36</text></g>
<g id="n-WHB63" transform="rotate(194.08)"><text class="b f" x="-812">WHB63</text></g>
<g id="n-WNM57" transform="rotate(195.84)"><text class="b f" x="-812">WNM57</text></g>
<g id="n-WNM50" transform="rotate(197.6)"><text class="b f" x="-812">WNM50</text></g>
<g id="n-WHB53" transform="rotate(199.36)"><text class="b f" x="-812">WHB53</text></g>
<g id="n-WHB55" transform="rotate(201.12)"><text class="b f" x="-812">WHB55</text></g>
<g id="n-WHB60" transform="rotate(202.88)"><text class="b f" x="-812">WHB60</text></g>
<g id="n-WHB20" transform="rotate(204.64)"><text class="b f" x="-812">WHB20</text></g>
<g id="n-WSX25" transform="rotate(206.4)"><text class="b f" x="-812">WSX25</text></g>
<g id="n-WHB57" transform="rotate(208.16)"><text class="b f" x="-812">WHB57</text></g>
<g id="n-WHLJ51" transform="rotate(209.92)"><text class="b f" x="-812">WHLJ51</text></g>
<g id="n-WHLJ49" transform="rotate(211.68)"><text class="b f" x="-812">WHLJ49</text></g>
<g id="n-WNM8" transform="rotate(213.44)"><text class="b f" x="-812">WNM8</text></g>
<g id="n-POL3" transform="rotate(215.2)"><text class="b f" x="-812">POL3</text></g>
<g id="n-WNM17" transform="rotate(216.96)"><text class="b f" x="-812">WNM17</text></g>
<g id="n-POL2" transform="rotate(218.72)"><text class="b f" x="-812">POL2</text></g>
<g id="n-SAX1" transform="rotate(220.48)"><text class="g f" x="-812">SAX1</text></g>
<g id="n-RUS11" transform="rotate(222.24)"><text class="g f" x="-812">RUS11</text></g>
<g id="n-WSX26" transform="rotate(224)"><text class="m f" x="-812">WSX26</text></g>
<g id="n-RUS4" transform="rotate(225.76)"><text class="m f" x="-812">RUS4</text></g>
<g id="n-SAX15" transform="rotate(227.52)"><text class="m f" x="-812">SAX15</text></g>
<g id="n-SAX2" transform="rotate(229.28)"><text class="m f" x="-812">SAX2</text></g>
<g id="n-SX31" transform="rotate(231.04)"><text class="m f" x="-812">SX31</text></g>
<g id="n-SX8" transform="rotate(232.8)"><text class="m f" x="-812">SX8</text></g>
<g id="n-KYR1" transform="rotate(234.56)"><text class="m f" x="-812">KYR1</text></g>
<g id="n-SX27" transform="rotate(236.32)"><text class="g f" x="-812">SX27</text></g>
<g id="n-NM43" transform="rotate(238.08)"><text class="g f" x="-812">NM43</text></g>
<g id="n-GS11" transform="rotate(239.84)"><text class="m f" x="-812">GS11</text></g>
<g id="n-GS3" transform="rotate(241.6)"><text class="m f" x="-812">GS3</text></g>
<g id="n-HB12" transform="rotate(63.36)"><text class="m" x="812">HB12</text></g>
<g id="n-GS17" transform="rotate(65.12)"><text class="m" x="812">GS17</text></g>
<g id="n-SD12" transform="rotate(66.88)"><text class="m" x="812">SD12</text></g>
<g id="n-SX47" transform="rotate(68.64)"><text class="m" x="812">SX47</text></g>
<g id="n-SX42" transform="rotate(70.4)"><text class="m" x="812">SX42</text></g>
<g id="n-SX37" transform="rotate(72.16)"><text class="m" x="812">SX37</text></g>
<g id="n-WSX63" transform="rotate(73.92)"><text class="m" x="812">WSX63</text></g>
<g id="n-SD3" transform="rotate(75.68)"><text class="m" x="812">SD3</text></g>
<g id="n-JS1" transform="rotate(77.44)"><text class="m" x="812">JS1</text></g>
<g id="n-SD11" transform="rotate(79.2)"><text class="m" x="812">SD11</text></g>
<g id="n-LN3" transform="rotate(80.96)"><text class="m" x="812">LN3</text></g>
<g id="n-NX14" transform="rotate(82.72)"><text class="m" x="812">NX14</text></g>
<g id="n-QH11" transform="rotate(84.48)"><text class="g" x="812">QH11</text></g>
<g id="n-HB4" transform="rotate(86.24)"><text class="g" x="812">HB4</text></g>
<g id="n-JL6" transform="rotate(88)"><text class="g" x="812">JL6</text></g>
<g id="n-RUS20" transform="rotate(89.76)"><text class="g" x="812">RUS20</text></g>
<g id="n-MON1" transform="rotate(91.52)"><text class="g" x="812">MON1</text></g>
<g id="n-IND3" transform="rotate(93.28)"><text class="m" x="812">IND3</text></g>
<g id="n-GS13" transform="rotate(95.04)"><text class="m" x="812">GS13</text></g>
<g id="n-IND4" transform="rotate(96.8)"><text class="m" x="812">IND4</text></g>
<g id="n-NM7" transform="rotate(98.56)"><text class="m" x="812">NM7</text></g>
<g id="n-RUS22" transform="rotate(100.32)"><text class="m" x="812">RUS22</text></g>
<g id="n-UKR1" transform="rotate(102.08)"><text class="m" x="812">UKR1</text></g>
<g id="n-XJ5" transform="rotate(103.84)"><text class="m" x="812">XJ5</text></g>
<g id="n-LN1" transform="rotate(105.6)"><text class="m" x="812">LN1</text></g>
<g id="n-MON9" transform="rotate(107.36)"><text class="m" x="812">MON9</text></g>
<g id="n-MON13" transform="rotate(109.12)"><text class="m" x="812">MON13</text></g>
<g id="n-KAZ4" transform="rotate(110.88)"><text class="m" x="812">KAZ4</text></g>
<g id="n-WSX24" transform="rotate(112.64)"><text class="g" x="812">WSX24</text></g>
<g id="n-JL19" transform="rotate(114.4)"><text class="m" x="812">JL19</text></g>
<g id="n-WXJ1" transform="rotate(116.16)"><text class="m" x="812">WXJ1</text></g>
<g id="n-WSX19" transform="rotate(117.92)"><text class="g" x="812">WSX19</text></g>
<g id="n-AFG1" transform="rotate(119.68)"><text class="m" x="812">AFG1</text></g>
<g id="n-UKR2" transform="rotate(121.44)"><text class="m" x="812">UKR2</text></g>
<g id="n-XJ90" transform="rotate(123.2)"><text class="m" x="812">XJ90</text></g>
<g id="n-RUS8" transform="rotate(124.96)"><text class="g" x="811">RUS8</text></g>
<g id="n-RUS9" transform="rotate(126.72)"><text class="m" x="811">RUS9</text></g>
<g id="n-RUS14" transform="rotate(128.48)"><text class="g" x="811">RUS14</text></g>
<g id="n-RUS13" transform="rotate(130.24)"><text class="m" x="810">RUS13</text></g>
<g id="n-QH12" transform="rotate(132)"><text class="g" x="810">QH12</text></g>
<g id="n-RUS10" transform="rotate(133.76)"><text class="m" x="809">RUS10</text></g>
<g id="n-TUR3" transform="rotate(135.52)"><text class="m" x="809">TUR3</text></g>
<g id="n-TUR2" transform="rotate(137.28)"><text class="m" x="808">TUR2</text></g>
<g id="n-TUR1" transform="rotate(139.04)"><text class="m" x="808">TUR1</text></g>
<g id="n-WNX32" transform="rotate(140.8)"><text class="m" x="807">WNX32</text></g>
<g id="n-WGS9" transform="rotate(142.56)"><text class="m" x="806">WGS9</text></g>
<g id="n-WNX36" transform="rotate(144.32)"><text class="g" x="806">WNX36</text></g>
<g id="n-WNX23" transform="rotate(146.08)"><text class="b" x="805">WNX23</text></g>
<g id="n-WSX23" transform="rotate(147.84)"><text class="m" x="804">WSX23</text></g>
<g id="n-WNX33" transform="rotate(149.6)"><text class="g" x="803">WNX33</text></g>
<g id="n-WNM16" transform="rotate(151.36)"><text class="g" x="802">WNM16</text></g>
<g id="n-WNX35" transform="rotate(153.12)"><text class="g" x="801">WNX35</text></g>
<g id="n-WNX37" transform="rotate(154.88)"><text class="g" x="800">WNX37</text></g>
<g id="n-WNX24" transform="rotate(156.64)"><text class="b" x="799">WNX24</text></g>
<g id="n-WNM58" transform="rotate(158.4)"><text class="b" x="798">WNM58</text></g>
<g id="n-UZB1" transform="rotate(160.16)"><text class="g" x="797">UZB1</text></g>
<g id="n-HLJ12" transform="rotate(161.92)"><text class="m" x="796">HLJ12</text></g>
<g id="n-NM14" transform="rotate(163.68)"><text class="g" x="795">NM14</text></g>
<g id="n-POL1" transform="rotate(165.44)"><text class="g" x="794">POL1</text></g>
<g id="n-XJ7" transform="rotate(167.2)"><text class="m" x="793">XJ7</text></g>
<g id="n-XJ4" transform="rotate(168.96)"><text class="m" x="791">XJ4</text></g>
<g id="n-IND1" transform="rotate(170.72)"><text class="m" x="790">IND1</text></g>
<g id="n-XJ93" transform="rotate(172.48)"><text class="m" x="789">XJ93</text></g>
<g id="n-IND5" transform="rotate(174.24)"><text class="m" x="787">IND5</text></g>
<g id="n-TUR4" transform="rotate(176)"><text class="m" x="786">TUR4</text></g>
<g id="n-GER2" transform="rotate(177.76)"><text class="m" x="785">GER2</text></g>
<g id="n-XJ91" transform="rotate(179.52)"><text class="m" x="783">XJ91</text></g>
<g id="n-XJ6" transform="rotate(181.28)"><text class="g" x="782">XJ6</text></g>
<g id="n-MON8" transform="rotate(183.04)"><text class="g" x="781">MON8</text></g>
<g id="n-XJ86" transform="rotate(184.8)"><text class="g" x="779">XJ86</text></g>
<g id="n-IND8" transform="rotate(186.56)"><text class="m" x="778">IND8</text></g>
<g id="n-RUS26" transform="rotate(188.32)"><text class="m" x="776">RUS26</text></g>
<g id="n-WHLJ48" transform="rotate(190.08)"><text class="g" x="775">WHLJ48</text></g>
<g id="n-NM45" transform="rotate(191.84)"><text class="g" x="774">NM45</text></g>
<g id="n-SX28" transform="rotate(193.6)"><text class="g" x="772">SX28</text></g>
<g id="n-QH4" transform="rotate(195.36)"><text class="g" x="771">QH4</text></g>
<g id="n-SAX9" transform="rotate(197.12)"><text class="g" x="770">SAX9</text></g>
<g id="n-WSX20" transform="rotate(198.88)"><text class="g" x="768">WSX20</text></g>
<g id="n-WSX22" transform="rotate(200.64)"><text class="g" x="767">WSX22</text></g>
<g id="n-WSX21" transform="rotate(202.4)"><text class="g" x="766">WSX21</text></g>
<g id="n-RUS3" transform="rotate(204.16)"><text class="g" x="765">RUS3</text></g>
<g id="n-WHB58" transform="rotate(205.92)"><text class="g" x="763">WHB58</text></g>
<g id="n-QH10" transform="rotate(207.68)"><text class="m" x="762">QH10</text></g>
<g id="n-SD13" transform="rotate(209.44)"><text class="m" x="761">SD13</text></g>
<g id="n-SD8" transform="rotate(211.2)"><text class="m" x="760">SD8</text></g>
<g id="n-HLJ24" transform="rotate(212.96)"><text class="m" x="759">HLJ24</text></g>
<g id="n-LN5" transform="rotate(214.72)"><text class="m" x="758">LN5</text></g>
<g id="n-IND2" transform="rotate(216.48)"><text class="m" x="757">IND2</text></g>
<g id="n-IND11" transform="rotate(218.24)"><text class="m" x="756">IND11</text></g>
<g id="n-HB34" transform="rotate(220)"><text class="m" x="755">HB34</text></g>
<g id="n-AH1" transform="rotate(221.76)"><text class="m" x="755">AH1</text></g>
<g id="n-HB14" transform="rotate(223.52)"><text class="m" x="754">HB14</text></g>
<g id="n-HLJ7" transform="rotate(225.28)"><text class="g" x="753">HLJ7</text></g>
<g id="n-XZ1" transform="rotate(227.04)"><text class="g" x="753">XZ1</text></g>
<g id="n-HLJ1" transform="rotate(228.8)"><text class="m" x="752">HLJ1</text></g>
<g id="n-NX18" transform="rotate(230.56)"><text class="m" x="752">NX18</text></g>
<g id="n-HB7" transform="rotate(232.32)"><text class="m" x="751">HB7</text></g>
<g id="n-HLJ2" transform="rotate(234.08)"><text class="m" x="751">HLJ2</text></g>
<g id="n-HUN1" transform="rotate(235.84)"><text class="m" x="751">HUN1</text></g>
<g id="n-SX48" transform="rotate(237.6)"><text class="m" x="750">SX48</text></g>
<g id="n-LN6" transform="rotate(239.36)"><text class="m" x="750">LN6</text></g>
<g id="n-JL1" transform="rotate(241.12)"><text class="g" x="750">JL1</text></g>
<g id="n-SX39" transform="rotate(422.88)"><text class="m f" x="-750">SX39</text></g>
<g id="n-US3" transform="rotate(424.64)"><text class="m f" x="-750">US3</text></g>
<g id="n-US2" transform="rotate(426.4)"><text class="m f" x="-750">US2</text></g>
<g id="n-MON4" transform="rotate(428.16)"><text class="m f" x="-750">MON4</text></g>
<g id="n-MON3" transform="rotate(429.92)"><text class="g f" x="-751">MON3</text></g>
<g id="n-KAZ1" transform="rotate(431.68)"><text class="m f" x="-751">KAZ1</text></g>
<g id="n-SAX12" transform="rotate(433.44)"><text class="m f" x="-751">SAX12</text></g>
<g id="n-KAZ2" transform="rotate(435.2)"><text class="m f" x="-752">KAZ2</text></g>
<g id="n-US1" transform="rotate(436.96)"><text class="m f" x="-753">US1</text></g>
<g id="n-GER1" transform="rotate(438.72)"><text class="m f" x="-753">GER1</text></g>
<g id="n-RUS21" transform="rotate(440.48)"><text class="m f" x="-754">RUS21</text></g>
<g id="n-KAZ3" transform="rotate(442.24)"><text class="m f" x="-755">KAZ3</text></g>
<g id="n-UKR5" transform="rotate(444)"><text class="m f" x="-755">UKR5</text></g>
<g id="n-MON2" transform="rotate(445.76)"><text class="g f" x="-756">MON2</text></g>
<g id="n-RUS19" transform="rotate(447.52)"><text class="g f" x="-757">RUS19</text></g>
<g id="n-GS8" transform="rotate(449.28)"><text class="m f" x="-758">GS8</text></g>
<g id="n-HN1" transform="rotate(451.04)"><text class="g f" x="-759">HN1</text></g>
<g id="n-QH6" transform="rotate(452.8)"><text class="m f" x="-760">QH6</text></g>
<g id="n-SX54" transform="rotate(454.56)"><text class="m f" x="-761">SX54</text></g>
<g id="n-NM1" transform="rotate(456.32)"><text class="m f" x="-762">NM1</text></g>
<g id="n-NX19" transform="rotate(458.08)"><text class="g f" x="-763">NX19</text></g>
<g id="n-NM34" transform="rotate(459.84)"><text class="g f" x="-765">NM34</text></g>
<g id="n-IND16" transform="rotate(461.6)"><text class="m f" x="-766">IND16</text></g>
<g id="n-IND12" transform="rotate(463.36)"><text class="m f" x="-767">IND12</text></g>
<g id="n-MON11" transform="rotate(465.12)"><text class="y f" x="-768">MON11</text></g>
<g id="n-QH2" transform="rotate(466.88)"><text class="g f" x="-770">QH2</text></g>
<g id="n-NM35" transform="rotate(468.64)"><text class="g f" x="-771">NM35</text></g>
<g id="n-HLJ28" transform="rotate(470.4)"><text class="g f" x="-772">HLJ28</text></g>
<g id="n-WNX34" transform="rotate(472.16)"><text class="g f" x="-774">WNX34</text></g>
<g id="n-WNM15" transform="rotate(473.92)"><text class="g f" x="-775">WNM15</text></g>
<g id="n-WJL13" transform="rotate(475.68)"><text class="y f" x="-776">WJL13</text></g>
<g id="n-WJL11" transform="rotate(477.44)"><text class="g f" x="-778">WJL11</text></g>
<g id="n-JL16" transform="rotate(479.2)"><text class="y f" x="-779">JL16</text></g>
<g id="n-WHLJ50" transform="rotate(480.96)"><text class="g f" x="-781">WHLJ50</text></g>
<g id="n-GS12" transform="rotate(482.72)"><text class="g f" x="-782">GS12</text></g>
<g id="n-LN4" transform="rotate(484.48)"><text class="y f" x="-783">LN4</text></g>
<g id="n-NM31" transform="rotate(486.24)"><text class="y f" x="-785">NM31</text></g>
<g id="n-NM22" transform="rotate(488)"><text class="y f" x="-786">NM22</text></g>
<g id="n-WSX17" transform="rotate(489.76)"><text class="g f" x="-787">WSX17</text></g>
<g id="n-WHLJ34" transform="rotate(491.52)"><text class="y f" x="-789">WHLJ34</text></g>
<g id="n-LN7" transform="rotate(493.28)"><text class="g f" x="-790">LN7</text></g>
<g id="n-PK1" transform="rotate(495.04)"><text class="y f" x="-791">PK1</text></g>
<g id="n-HB25" transform="rotate(496.8)"><text class="g f" x="-793">HB25</text></g>
<g id="n-NM24" transform="rotate(498.56)"><text class="g f" x="-794">NM24</text></g>
<g id="n-RUS24" transform="rotate(500.32)"><text class="g f" x="-795">RUS24</text></g>
<g id="n-RUS5" transform="rotate(502.08)"><text class="g f" x="-796">RUS5</text></g>
<g id="n-MON6" transform="rotate(503.84)"><text class="g f" x="-797">MON6</text></g>
<g id="n-RUS25" transform="rotate(505.6)"><text class="g f" x="-798">RUS25</text></g>
<g id="n-JL18" transform="rotate(507.36)"><text class="y f" x="-799">JL18</text></g>
<g id="n-JL5" transform="rotate(509.12)"><text class="y f" x="-800">JL5</text></g>
<g id="n-SD14" transform="rotate(510.88)"><text class="g f" x="-801">SD14</text></g>
<g id="n-WHLJ33" transform="rotate(512.64)"><text class="y f" x="-802">WHLJ33</text></g>
<g id="n-RUS15" transform="rotate(514.4)"><text class="g f" x="-803">RUS15</text></g>
<g id="n-MON10" transform="rotate(516.16)"><text class="g f" x="-804">MON10</text></g>
<g id="n-MON7" transform="rotate(517.92)"><text class="g f" x="-805">MON7</text></g>
<g id="n-WJL12" transform="rotate(519.68)"><text class="y f" x="-806">WJL12</text></g>
<g id="n-RUS23" transform="rotate(521.44)"><text class="y f" x="-806">RUS23</text></g>
<g id="n-MON14" transform="rotate(523.2)"><text class="g f" x="-807">MON14</text></g>
<g id="n-UKR4" transform="rotate(524.96)"><text class="y f" x="-808">UKR4</text></g>
<g id="n-MON12" transform="rotate(526.72)"><text class="y f" x="-808">MON12</text></g>
<g id="n-MON15" transform="rotate(528.48)"><text class="y f" x="-809">MON15</text></g>
<g id="n-UKR3" transform="rotate(530.24)"><text class="y f" x="-809">UKR3</text></g>
</g>
</g>
<g id="scaleA" stroke="#333" stroke-width="2">
<line x1="170" y1="1634" x2="200" y2="1634"/><line x1="170" y1="1626" x2="170" y2="1642"/><line x1="200" y1="1626" x2="200" y2="1642"/>
</g>
<text x="186" y="1662" font-family="Liberation Sans, Arial, sans-serif" font-size="17" fill="#333" text-anchor="middle">0.01</text>
<g id="edgesB">
<path class="pl" d="M2650 262V313M2650 262H2653M2650 313H2847M2611 287.5V364M2611 287.5H2650M2611 364H2677M2580 325.75V415M2580 325.75H2611M2580 415H2604M2548 370.4V504M2548 370.4H2580M2548 504H2560M2560 466V542M2560 466H2618M2560 542H2584M2584 517V567M2584 517H2645M2584 567H2588M2522 437.2V665.8M2522 437.2H2548M2522 665.8H2538M2538 618V713.6M2538 618H2579M2538 713.6H2548M2548 669V758.25M2548 669H2562M2548 758.25H2559M2559 720V796.5M2559 720H2580M2559 796.5H2605M2605 771V822M2605 771H2608M2605 822H2704M2487 551.5V898.5M2487 551.5H2522M2487 898.5H2512M2321 725H2487M2512 873V924M2512 873H2662M2512 924H2593M2321 725V888"/>
<path class="yl" d="M2321 888V1051H2378M2378 1000.5V1101.5M2378 1000.5H2395M2395 975V1026M2395 975H2480M2395 1026H2476M2378 1101.5H2496M2496 1076V1127M2496 1076H2564M2496 1127H2569"/>
<path class="bll" d="M2106 888H2321M2106 888V1178H2501M2009 1033H2106M2009 1033V1229H2031M1975 1131H2009M1975 1131V1305.5H2142M2142 1280V1331M2142 1280H2857M2142 1331H2457"/>
</g>
<g id="bootB">
<text class="bs" x="2636" y="264">48</text>
<text class="bs" x="2597" y="300">50</text>
<text class="bs" x="2565" y="347">41</text>
<text class="bs" x="2531" y="412">29</text>
<text class="bs" x="2545" y="522">15</text>
<text class="bs" x="2506" y="526">19</text>
<text class="bs" x="2567" y="564">40</text>
<text class="bs" x="2521" y="690">17</text>
<text class="bs" x="2468" y="703">76</text>
<text class="bs" x="2531" y="740">29</text>
<text class="bs" x="2543" y="780">39</text>
<text class="bs" x="2585" y="825">82</text>
<text class="bs" x="2497" y="920">40</text>
<text class="bs" x="2300" y="861">88</text>
<text class="bs" x="2380" y="976">43</text>
<text class="bs" x="2357" y="1077">78</text>
<text class="bs" x="2472" y="1127">91</text>
<text class="bs" x="2081" y="1007">46</text>
<text class="bs" x="1991" y="1110">67</text>
<text class="bs" x="2110" y="1288">100</text>
</g>
<g id="labelsB">
<g id="B-CA-A"><text class="bl pt" x="2666" y="262">CA-A</text></g>
<g id="B-US-A"><text class="bl pt" x="2864" y="313">US-A</text></g>
<g id="B-MON-A"><text class="bl pt" x="2691" y="364">MON-A</text></g>
<g id="B-RUSUKR-A"><text class="bl pt" x="2620" y="415">RUSUKR-A</text></g>
<g id="B-CETUR-A"><text class="bl pt" x="2632" y="466">CETUR-A</text></g>
<g id="B-NWC-A"><text class="bl pt" x="2659" y="517">NWC-A</text></g>
<g id="B-IND-A"><text class="bl pt" x="2607" y="567">IND-A</text></g>
<g id="B-NEC-A"><text class="bl pt" x="2595" y="618">NEC-A</text></g>
<g id="B-LPC-A"><text class="bl pt" x="2578" y="669">LPC-A</text></g>
<g id="B-NCI-A"><text class="bl pt" x="2595" y="720">NCI-A</text></g>
<g id="B-NCII-A"><text class="bl pt" x="2620" y="771">NCII-A</text></g>
<g id="B-SC-A"><text class="bl pt" x="2719" y="822">SC-A</text></g>
<g id="B-WNCI-A"><text class="bl pt" x="2676" y="873">WNCI-A</text></g>
<g id="B-WLPC-A"><text class="bl pt" x="2607" y="924">WLPC-A</text></g>
<g id="B-NEC-B"><text class="bl yt" x="2496" y="975">NEC-B</text></g>
<g id="B-WNEC-B"><text class="bl yt" x="2492" y="1026">WNEC-B</text></g>
<g id="B-MON-B"><text class="bl yt" x="2580" y="1076">MON-B</text></g>
<g id="B-RUSUKR-B"><text class="bl yt" x="2585" y="1127">RUSUKR-B</text></g>
<g id="B-WLPC-C"><text class="bl bt" x="2517" y="1178">WLPC-C</text></g>
<g id="B-WNCI-C"><text class="bl bt" x="2047" y="1229">WNCI-C</text></g>
<g id="B-CETUR-C"><text class="bl bt" x="2873" y="1280">CETUR-C</text></g>
<g id="B-WNEC-C"><text class="bl bt" x="2473" y="1331">WNEC-C</text></g>
</g>
<g id="scaleB" stroke="#333" stroke-width="2.5">
<line x1="2079" y1="1401" x2="2196" y2="1401"/><line x1="2079" y1="1391" x2="2079" y2="1411"/><line x1="2196" y1="1391" x2="2196" y2="1411"/>
</g>
<text x="2137" y="1441" font-family="Liberation Sans, Arial, sans-serif" font-size="20" fill="#333" text-anchor="middle">0.050</text>
</svg>
